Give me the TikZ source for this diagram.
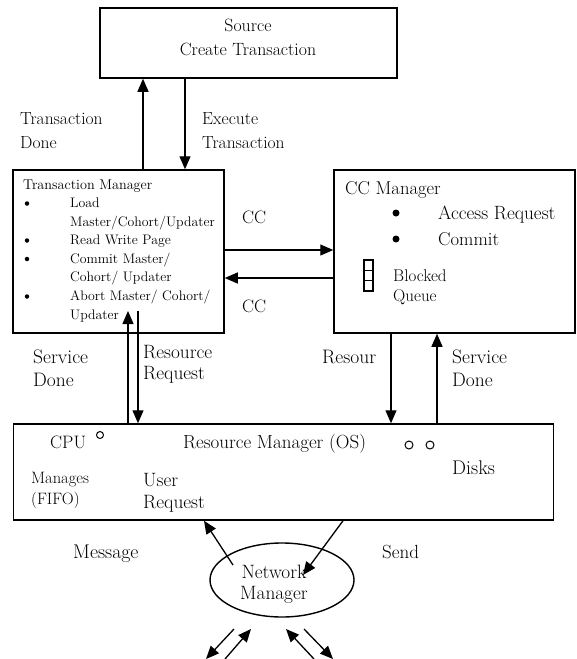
\documentclass[tikz,border=0pt]{standalone}
\usepackage{fontspec}
\usetikzlibrary{arrows.meta,shapes.geometric}
\begin{document}
\begin{tikzpicture}[x=1pt,y=-1pt,
  box/.style={draw, line width=1.5pt, inner sep=0pt},
  arr/.style={line width=1.3pt, -{Triangle[length=13pt,width=11pt]}},
  lbl/.style={inner sep=0pt, anchor=base west, align=left, font=\fontsize{18}{23.5}\selectfont},
  clbl/.style={inner sep=0pt, anchor=base, align=center, font=\fontsize{17.8}{24}\selectfont},
  small/.style={inner sep=0pt, anchor=base west, font=\fontsize{13.8}{18}\selectfont},
  dot/.style={circle, fill, inner sep=0pt, minimum size=#1},
  ring/.style={circle, draw, line width=1pt, inner sep=0pt, minimum size=#1}]

\useasboundingbox (0,0) rectangle (577,659);

% ---- main blocks ----
\node[box, minimum width=297pt, minimum height=70pt] (src) at (248.5,43) {};
\node[box, minimum width=211pt, minimum height=163pt] (tm) at (118.5,251.5) {};
\node[box, minimum width=241pt, minimum height=163pt] (cc) at (454.5,251.5) {};
\node[box, minimum width=540pt, minimum height=96pt] (rm) at (283.5,472) {};
\node[ellipse, draw, line width=1.4pt, minimum width=144pt, minimum height=74pt, inner sep=0pt] (nm) at (282,580) {};

% ---- source (multi-line nodes sit on the baseline of their last line) ----
\node[clbl] (srct) at (248,55) {Source\\Create Transaction};

% ---- transaction manager contents ----
\node[small, font=\fontsize{14.2}{18}\selectfont] (tmt) at (23,189.5) {Transaction Manager};
\node[small] (tml1) at (70,207.5) {Load};
\node[small] (tml2) at (70,226) {Master/Cohort/Updater};
\node[small] (tml3) at (70,244.5) {Read Write Page};
\node[small] (tml4) at (70,263) {Commit Master/};
\node[small] (tml5) at (70,281.5) {Cohort/ Updater};
\node[small] (tml6) at (70,300.5) {Abort Master/ Cohort/};
\node[small] (tml7) at (70,319) {Updater};
\foreach \yy [count=\i] in {203.5, 240.5, 259, 296.5}
  \node[dot=4.5pt] (tmb\i) at (27,\yy) {};

% ---- CC manager contents ----
\node[lbl, font=\fontsize{18.6}{24}\selectfont] (cct) at (345,194.5) {CC Manager};
\node[dot=7pt] (ccb1) at (396,213) {};
\node[dot=7pt] (ccb2) at (396,239) {};
\node[lbl, font=\fontsize{19.2}{24}\selectfont] (cca) at (438,219.5) {Access Request};
\node[lbl, font=\fontsize{18.6}{24}\selectfont] (ccc) at (438,245.5) {Commit};
\node[lbl, font=\fontsize{17}{20}\selectfont] (ccq) at (393,301) {Blocked\\Queue};
\draw[line width=1.1pt] (364,260) rectangle (373,270.3) (364,270.3) rectangle (373,280.7)
  (364,280.7) rectangle (373,291);

% ---- resource manager contents ----
\node[lbl] (cpu) at (50,448) {CPU};
\node[ring=7pt] (cpuc) at (100,435) {};
\node[lbl, font=\fontsize{19}{24}\selectfont] (rmt) at (183,448) {Resource Manager (OS)};
\node[ring=8pt] (dk1) at (409,445) {};
\node[ring=8pt] (dk2) at (430,445) {};
\node[lbl, font=\fontsize{19.8}{24}\selectfont] (dks) at (452,474) {Disks};
\node[lbl, font=\fontsize{16.5}{21}\selectfont] (mng) at (31,504) {Manages\\(FIFO)};
\node[lbl, font=\fontsize{19.3}{22}\selectfont] (usr) at (143,508) {User\\Request};

% ---- free labels ----
\node[lbl, font=\fontsize{17.5}{24}\selectfont] (tdone) at (20,148) {Transaction\\Done};
\node[lbl, font=\fontsize{17.5}{24}\selectfont] (exec) at (202,148) {Execute\\Transaction};
\node[lbl] (cc1) at (242,223) {CC};
\node[lbl] (cc2) at (242,312) {CC};
\node[lbl, font=\fontsize{19.5}{23}\selectfont] (sd1) at (33,386) {Service\\Done};
\node[lbl, font=\fontsize{19.3}{21}\selectfont] (rr) at (143,379) {Resource\\Request};
\node[lbl, font=\fontsize{19.5}{24}\selectfont] (res) at (322,363) {Resour};
\node[lbl, font=\fontsize{19.5}{23}\selectfont] (sd2) at (452,386) {Service\\Done};
\node[lbl, font=\fontsize{19.8}{24}\selectfont] (msg) at (73,558) {Message};
\node[lbl, font=\fontsize{19}{24}\selectfont] (snd) at (382,558) {Send};
\node[clbl, font=\fontsize{19.3}{21}\selectfont] (nmt) at (274,599) {Network\\Manager};

% ---- connector columns and rows ----
\coordinate (k1) at (143,0);
\coordinate (k2) at (185,0);
\coordinate (k3) at (128,311);
\coordinate (k4) at (138,311);
\coordinate (k5) at (391,0);
\coordinate (k6) at (437,0);
\coordinate (k7) at (204,0);
\coordinate (k8) at (343,0);
\coordinate (r1) at (0,250);
\coordinate (r2) at (0,278);
\coordinate (m1) at (233,565);
\coordinate (s1) at (303,575);

% ---- connectors ----
\draw[arr] (tm.north -| k1) -- (src.south -| k1);
\draw[arr] (src.south -| k2) -- (tm.north -| k2);
\draw[arr] (tm.east |- r1) -- (cc.west |- r1);
\draw[arr] (cc.west |- r2) -- (tm.east |- r2);
\draw[arr] (rm.north -| k3) -- (k3);
\draw[arr] (k4) -- (rm.north -| k4);
\draw[arr] (cc.south -| k5) -- (rm.north -| k5);
\draw[arr] (rm.north -| k6) -- (cc.south -| k6);
\draw[arr] (m1) -- (rm.south -| k7);
\draw[arr] (rm.south -| k8) -- (s1);

% ---- links leaving the network manager ----
\coordinate (b1s) at (234,629); \coordinate (b1e) at (206,659);
\coordinate (b2s) at (225,659); \coordinate (b2e) at (251,629);
\coordinate (b3s) at (314,659); \coordinate (b3e) at (286,629);
\coordinate (b4s) at (304,629); \coordinate (b4e) at (333,659);
\draw[arr] (b1s) -- (b1e);
\draw[arr] (b2s) -- (b2e);
\draw[arr] (b3s) -- (b3e);
\draw[arr] (b4s) -- (b4e);
\end{tikzpicture}
\end{document}
